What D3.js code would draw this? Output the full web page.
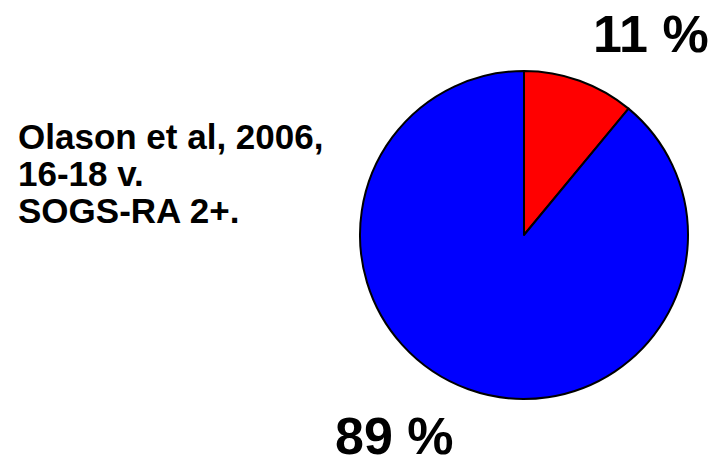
<!DOCTYPE html>
<html>
<head>
<meta charset="utf-8">
<script src="https://cdn.jsdelivr.net/npm/d3@7"></script>
<style>
  body { margin: 0; background: #fff; }
  text { font-family: "Liberation Sans", Arial, sans-serif; font-weight: bold; }
</style>
</head>
<body>
<svg id="chart" width="717" height="459"></svg>
<script>
// data
var labels = ["11 %", "89 %"];
var values = [11, 89];
var colors = ["#ff0000", "#0000ff"];
var noteLines = ["Olason et al, 2006,", "16-18 v.", "SOGS-RA 2+."];

var svg = d3.select("#chart");
var cx = 524, cy = 235, r = 164;

var pie = d3.pie().sort(null).value(function(d) { return d; });
var arc = d3.arc().innerRadius(0).outerRadius(r);

var g = svg.append("g").attr("transform", "translate(" + cx + "," + cy + ")");
g.selectAll("path")
    .data(pie(values))
    .enter().append("path")
    .attr("d", arc)
    .attr("fill", function(d, i) { return colors[i]; })
    .attr("stroke", "#000")
    .attr("stroke-width", 2)
    .attr("stroke-linejoin", "round");

// percent labels
svg.append("text")
    .attr("x", 593).attr("y", 52)
    .attr("font-size", 52)
    .text(labels[0]);
svg.append("text")
    .attr("x", 335).attr("y", 454)
    .attr("font-size", 52)
    .text(labels[1]);

// note on the left
svg.append("g").selectAll("text")
    .data(noteLines)
    .enter().append("text")
    .attr("x", 18)
    .attr("y", function(d, i) { return 149 + i * 37; })
    .attr("font-size", 35)
    .text(function(d) { return d; });
</script>
</body>
</html>
